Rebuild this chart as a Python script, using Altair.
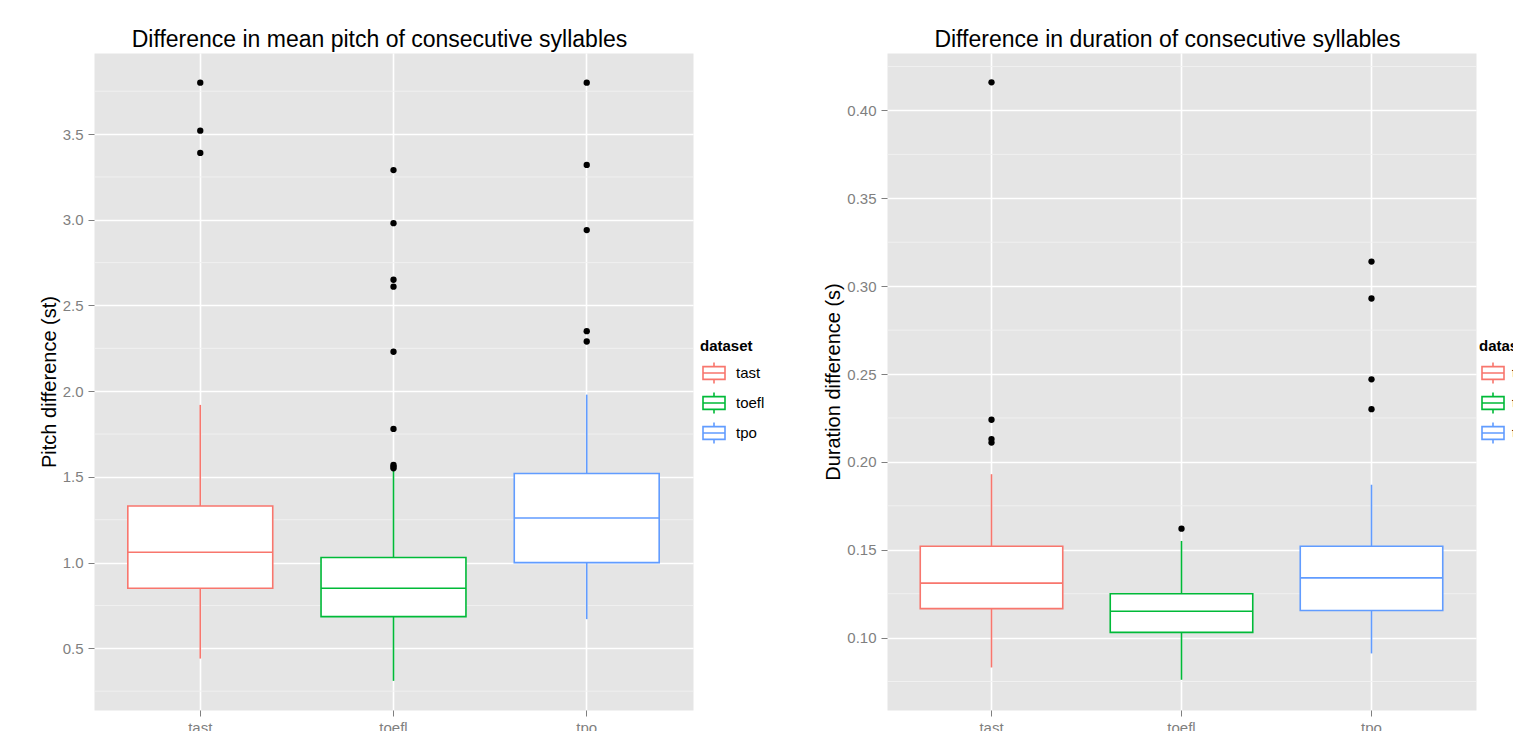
import altair as alt
import pandas as pd

datasets = ["tast", "toefl", "tpo"]
colors = ["#F8766D", "#00BA38", "#619CFF"]

# Pitch difference (st) box statistics
pitch_lower = [0.44, 0.31, 0.67]
pitch_q1 = [0.85, 0.685, 1.00]
pitch_median = [1.06, 0.85, 1.26]
pitch_q3 = [1.33, 1.03, 1.52]
pitch_upper = [1.92, 1.55, 1.98]
pitch_out_tast = [3.80, 3.52, 3.39]
pitch_out_toefl = [3.29, 2.98, 2.65, 2.61, 2.23, 1.78, 1.57, 1.56, 1.55]
pitch_out_tpo = [3.80, 3.32, 2.94, 2.35, 2.29]
pitch_major = [0.5, 1.0, 1.5, 2.0, 2.5, 3.0, 3.5]
pitch_minor = [0.25, 0.75, 1.25, 1.75, 2.25, 2.75, 3.25, 3.75]
pitch_domain = [0.14, 3.973]

# Duration difference (s) box statistics
dur_lower = [0.083, 0.076, 0.091]
dur_q1 = [0.1165, 0.103, 0.1154]
dur_median = [0.131, 0.115, 0.134]
dur_q3 = [0.152, 0.125, 0.152]
dur_upper = [0.193, 0.155, 0.187]
dur_out_tast = [0.416, 0.224, 0.213, 0.211]
dur_out_toefl = [0.162]
dur_out_tpo = [0.314, 0.293, 0.247, 0.230]
dur_major = [0.10, 0.15, 0.20, 0.25, 0.30, 0.35, 0.40]
dur_minor = [0.075, 0.125, 0.175, 0.225, 0.275, 0.325, 0.375, 0.425]
dur_domain = [0.0588, 0.4327]

FONT = "Liberation Sans"
GREY = "#7F7F7F"
BOX_SYMBOL = "M-0.85,-0.49H0.85V0.49H-0.85Z M-0.85,0H0.85 M0,-0.49V-0.81 M0,0.49V0.81"


def panel(title, ytitle, lower, q1, med, q3, upper, outs, major, minor, domain, fmt,
          width, legend_x, label_offset):
    stats = pd.DataFrame({"dataset": datasets, "lower": lower, "q1": q1,
                          "median": med, "q3": q3, "upper": upper})
    out_rows = []
    for name, vals in zip(datasets, outs):
        for v in vals:
            out_rows.append({"dataset": name, "value": v})
    outliers = pd.DataFrame(out_rows)
    minor_df = pd.DataFrame({"v": minor})

    xscale = alt.Scale(domain=datasets, paddingInner=0.25, paddingOuter=0.175)
    yscale = alt.Scale(domain=domain, nice=False, zero=False)
    color = alt.Color("dataset:N", scale=alt.Scale(domain=datasets, range=colors),
                      legend=alt.Legend(
                          title="dataset", orient="none", legendX=legend_x, legendY=286,
                          titleFontSize=15, titleFontWeight="bold", titleColor="black",
                          titleFont=FONT, labelFont=FONT, labelFontSize=15,
                          labelColor="black", symbolSize=670, symbolStrokeWidth=1.6,
                          symbolFillColor="transparent", symbolType=BOX_SYMBOL,
                          rowPadding=2, labelOffset=label_offset, titlePadding=5))

    xenc = alt.X("dataset:N", scale=xscale, sort=datasets,
                 axis=alt.Axis(title=None, labelAngle=0, domain=False, grid=True,
                               gridColor="white", gridWidth=1.6, tickColor=GREY,
                               tickSize=6, tickWidth=1, labelColor=GREY,
                               labelFontSize=15, labelFont=FONT, labelPadding=4))

    minor_layer = alt.Chart(minor_df).mark_rule(color="#F2F2F2", strokeWidth=0.9).encode(
        y=alt.Y("v:Q", scale=yscale,
                axis=alt.Axis(title=ytitle, values=major, format=fmt, domain=False,
                              grid=True, gridColor="white", gridWidth=1.6,
                              tickColor=GREY, tickSize=6, tickWidth=1,
                              labelColor=GREY, labelFontSize=15, labelFont=FONT,
                              labelPadding=5, titleFont=FONT, titleFontSize=20,
                              titleFontWeight="normal", titleColor="black",
                              titlePadding=3))
    )

    base = alt.Chart(stats)
    whisker = base.mark_rule(strokeWidth=1.6).encode(
        x=xenc, y=alt.Y("lower:Q", scale=yscale), y2="upper:Q", color=color)
    box = base.mark_bar(fill="white", strokeWidth=1.6).encode(
        x=xenc, y=alt.Y("q1:Q", scale=yscale), y2="q3:Q", stroke=color)
    median = base.mark_bar(fill="white", strokeWidth=1.6).encode(
        x=xenc, y=alt.Y("median:Q", scale=yscale), y2="median:Q", stroke=color)
    points = alt.Chart(outliers).mark_circle(size=40, color="black", opacity=1).encode(
        x=alt.X("dataset:N", scale=xscale), y=alt.Y("value:Q", scale=yscale))

    return alt.layer(minor_layer, whisker, box, median, points).properties(
        width=width, height=657,
        title=alt.TitleParams(title, fontSize=23, font=FONT, fontWeight="normal",
                              color="black", offset=1, dx=-14)
    )


left = panel("Difference in mean pitch of consecutive syllables", "Pitch difference (st)",
             pitch_lower, pitch_q1, pitch_median, pitch_q3, pitch_upper,
             [pitch_out_tast, pitch_out_toefl, pitch_out_tpo],
             pitch_major, pitch_minor, pitch_domain, ".1f", 599, 606, 8)
right = panel("Difference in duration of consecutive syllables", "Duration difference (s)",
              dur_lower, dur_q1, dur_median, dur_q3, dur_upper,
              [dur_out_tast, dur_out_toefl, dur_out_tpo],
              dur_major, dur_minor, dur_domain, ".2f", 589, 592, 5)

chart = alt.hconcat(left, right, spacing=194, bounds="flush").resolve_legend(
    color="independent", stroke="independent"
).properties(
    padding={"top": 20, "left": 30, "right": -29, "bottom": 5}
).configure_view(fill="#E5E5E5", stroke="transparent")

chart.save("out.html", embed_options={"renderer": "svg", "actions": False})
